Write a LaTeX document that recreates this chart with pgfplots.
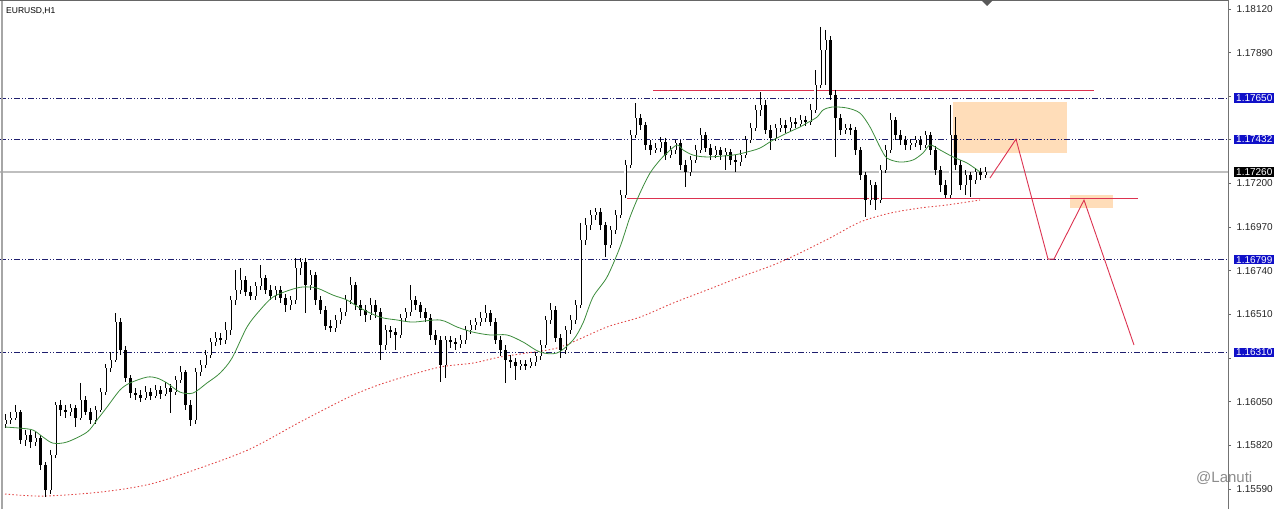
\documentclass[border=0pt]{standalone}
\usepackage{pgfplots}
\pgfplotsset{compat=1.18}
\usepackage{pgfplotstable}
\usepackage{fontspec}
\setmainfont{Liberation Sans}
\definecolor{lvl}{RGB}{30,30,110}
\definecolor{crim}{RGB}{220,50,80}
\definecolor{lblblue}{RGB}{16,16,200}
\definecolor{zone}{RGB}{255,221,185}
\definecolor{ma}{RGB}{60,140,60}
\definecolor{ma2}{RGB}{225,70,70}

\pgfplotstableread{
x o h l c
5 1.15933 1.15985 1.15911 1.15954
10 1.15954 1.15996 1.15933 1.15964
15 1.15964 1.16033 1.15954 1.15996
20 1.15996 1.16006 1.15827 1.15848
25 1.15848 1.15901 1.15817 1.15875
30 1.15875 1.15901 1.15806 1.15838
35 1.15838 1.15890 1.15817 1.15859
40 1.15859 1.15875 1.15690 1.15716
45 1.15716 1.15732 1.15548 1.15585
50 1.15585 1.15796 1.15564 1.15769
55 1.15769 1.16048 1.15753 1.16033
60 1.16033 1.16059 1.15975 1.16006
65 1.16006 1.16033 1.15964 1.15996
70 1.15996 1.16038 1.15975 1.16017
75 1.16017 1.16033 1.15917 1.15964
80 1.15964 1.16149 1.15954 1.16059
85 1.16059 1.16080 1.15980 1.15996
90 1.15996 1.16017 1.15933 1.15954
95 1.15954 1.16027 1.15933 1.16006
100 1.16006 1.16122 1.15996 1.16101
105 1.16101 1.16249 1.16085 1.16228
110 1.16228 1.16312 1.16207 1.16270
115 1.16270 1.16517 1.16259 1.16470
120 1.16470 1.16491 1.16296 1.16322
125 1.16322 1.16344 1.16154 1.16175
130 1.16175 1.16191 1.16070 1.16096
135 1.16096 1.16122 1.16059 1.16085
140 1.16085 1.16112 1.16048 1.16070
145 1.16070 1.16133 1.16059 1.16101
150 1.16101 1.16122 1.16059 1.16080
155 1.16080 1.16138 1.16070 1.16112
160 1.16112 1.16133 1.16064 1.16091
165 1.16091 1.16154 1.16080 1.16122
170 1.16122 1.16143 1.15990 1.16101
175 1.16101 1.16185 1.16085 1.16164
180 1.16164 1.16238 1.16149 1.16207
185 1.16207 1.16217 1.16006 1.16033
190 1.16033 1.16059 1.15922 1.15954
195 1.15954 1.16228 1.15933 1.16207
200 1.16207 1.16270 1.16185 1.16243
205 1.16243 1.16322 1.16228 1.16296
210 1.16296 1.16386 1.16280 1.16365
215 1.16365 1.16417 1.16344 1.16386
220 1.16386 1.16412 1.16349 1.16375
225 1.16375 1.16470 1.16354 1.16428
230 1.16428 1.16607 1.16402 1.16586
235 1.16586 1.16744 1.16560 1.16639
240 1.16639 1.16755 1.16618 1.16691
245 1.16691 1.16712 1.16607 1.16628
250 1.16628 1.16660 1.16586 1.16607
255 1.16607 1.16681 1.16586 1.16660
260 1.16660 1.16770 1.16639 1.16702
265 1.16702 1.16718 1.16618 1.16639
270 1.16639 1.16665 1.16586 1.16607
275 1.16607 1.16660 1.16586 1.16639
280 1.16639 1.16660 1.16570 1.16597
285 1.16597 1.16618 1.16523 1.16560
290 1.16560 1.16607 1.16533 1.16586
295 1.16586 1.16807 1.16565 1.16755
300 1.16755 1.16807 1.16718 1.16786
305 1.16786 1.16807 1.16517 1.16665
310 1.16665 1.16744 1.16639 1.16718
315 1.16718 1.16734 1.16560 1.16586
320 1.16586 1.16607 1.16512 1.16533
325 1.16533 1.16554 1.16428 1.16449
330 1.16449 1.16481 1.16417 1.16438
335 1.16438 1.16507 1.16417 1.16481
340 1.16481 1.16544 1.16460 1.16523
345 1.16523 1.16612 1.16502 1.16586
350 1.16586 1.16707 1.16565 1.16665
355 1.16665 1.16681 1.16533 1.16560
360 1.16560 1.16586 1.16502 1.16533
365 1.16533 1.16560 1.16470 1.16507
370 1.16507 1.16597 1.16481 1.16560
375 1.16560 1.16586 1.16491 1.16523
380 1.16523 1.16544 1.16270 1.16349
385 1.16349 1.16454 1.16322 1.16428
390 1.16428 1.16449 1.16386 1.16417
395 1.16417 1.16438 1.16322 1.16402
400 1.16402 1.16512 1.16386 1.16491
405 1.16491 1.16544 1.16470 1.16523
410 1.16523 1.16665 1.16502 1.16586
415 1.16586 1.16607 1.16533 1.16560
420 1.16560 1.16575 1.16491 1.16523
425 1.16523 1.16544 1.16470 1.16491
430 1.16491 1.16512 1.16375 1.16402
435 1.16402 1.16428 1.16349 1.16375
440 1.16375 1.16396 1.16154 1.16243
445 1.16243 1.16396 1.16175 1.16375
450 1.16375 1.16396 1.16333 1.16365
455 1.16365 1.16386 1.16322 1.16354
460 1.16354 1.16402 1.16333 1.16375
465 1.16375 1.16449 1.16354 1.16428
470 1.16428 1.16481 1.16407 1.16454
475 1.16454 1.16491 1.16428 1.16470
480 1.16470 1.16523 1.16449 1.16491
485 1.16491 1.16560 1.16470 1.16517
490 1.16517 1.16533 1.16449 1.16470
495 1.16470 1.16491 1.16354 1.16375
500 1.16375 1.16396 1.16291 1.16322
505 1.16322 1.16349 1.16149 1.16270
510 1.16270 1.16296 1.16228 1.16259
515 1.16259 1.16280 1.16164 1.16238
520 1.16238 1.16270 1.16217 1.16249
525 1.16249 1.16270 1.16217 1.16238
530 1.16238 1.16280 1.16228 1.16259
535 1.16259 1.16312 1.16238 1.16291
540 1.16291 1.16375 1.16270 1.16349
545 1.16349 1.16502 1.16333 1.16481
550 1.16481 1.16570 1.16460 1.16533
555 1.16533 1.16554 1.16365 1.16386
560 1.16386 1.16407 1.16280 1.16322
565 1.16322 1.16449 1.16301 1.16428
570 1.16428 1.16507 1.16407 1.16481
575 1.16481 1.16586 1.16460 1.16560
580 1.16560 1.16992 1.16544 1.16902
585 1.16902 1.17018 1.16876 1.16981
590 1.16981 1.17060 1.16955 1.17034
595 1.17034 1.17071 1.17008 1.17050
600 1.17050 1.17071 1.16955 1.16981
605 1.16981 1.16997 1.16813 1.16876
610 1.16876 1.16976 1.16860 1.16955
615 1.16955 1.17060 1.16934 1.17034
620 1.17034 1.17166 1.17018 1.17139
625 1.17139 1.17324 1.17124 1.17297
630 1.17297 1.17482 1.17282 1.17456
635 1.17456 1.17624 1.17440 1.17545
640 1.17545 1.17566 1.17482 1.17508
645 1.17508 1.17524 1.17377 1.17403
650 1.17403 1.17429 1.17350 1.17377
655 1.17377 1.17413 1.17361 1.17387
660 1.17387 1.17445 1.17366 1.17419
665 1.17419 1.17440 1.17324 1.17350
670 1.17350 1.17398 1.17334 1.17377
675 1.17377 1.17429 1.17355 1.17413
680 1.17413 1.17429 1.17271 1.17297
685 1.17297 1.17324 1.17182 1.17261
690 1.17261 1.17345 1.17239 1.17324
695 1.17324 1.17403 1.17308 1.17377
700 1.17377 1.17492 1.17361 1.17456
705 1.17456 1.17471 1.17366 1.17387
710 1.17387 1.17408 1.17324 1.17350
715 1.17350 1.17398 1.17334 1.17377
720 1.17377 1.17392 1.17324 1.17350
725 1.17350 1.17387 1.17271 1.17366
730 1.17366 1.17382 1.17297 1.17324
735 1.17324 1.17350 1.17261 1.17313
740 1.17313 1.17377 1.17292 1.17350
745 1.17350 1.17450 1.17334 1.17429
750 1.17429 1.17519 1.17413 1.17492
755 1.17492 1.17614 1.17477 1.17587
760 1.17587 1.17682 1.17556 1.17614
765 1.17614 1.17640 1.17461 1.17482
770 1.17482 1.17508 1.17377 1.17440
775 1.17440 1.17514 1.17424 1.17492
780 1.17492 1.17545 1.17471 1.17508
785 1.17508 1.17535 1.17466 1.17492
790 1.17492 1.17550 1.17477 1.17524
795 1.17524 1.17545 1.17492 1.17514
800 1.17514 1.17561 1.17498 1.17535
805 1.17535 1.17556 1.17503 1.17524
810 1.17524 1.17619 1.17508 1.17587
815 1.17587 1.17798 1.17571 1.17719
820 1.17719 1.18025 1.17703 1.17903
825 1.17903 1.18009 1.17719 1.17956
830 1.17956 1.17977 1.17640 1.17666
835 1.17666 1.17693 1.17340 1.17545
840 1.17545 1.17566 1.17456 1.17482
845 1.17482 1.17514 1.17461 1.17492
850 1.17492 1.17514 1.17456 1.17482
855 1.17482 1.17498 1.17350 1.17377
860 1.17377 1.17392 1.17218 1.17245
865 1.17245 1.17261 1.17023 1.17113
870 1.17113 1.17218 1.17087 1.17192
875 1.17192 1.17208 1.17060 1.17113
880 1.17113 1.17297 1.17097 1.17271
885 1.17271 1.17403 1.17255 1.17377
890 1.17377 1.17571 1.17361 1.17535
895 1.17535 1.17550 1.17429 1.17456
900 1.17456 1.17482 1.17403 1.17429
905 1.17429 1.17450 1.17377 1.17403
910 1.17403 1.17434 1.17377 1.17413
915 1.17413 1.17450 1.17392 1.17429
920 1.17429 1.17450 1.17377 1.17403
925 1.17403 1.17477 1.17387 1.17456
930 1.17456 1.17471 1.17350 1.17377
935 1.17377 1.17398 1.17245 1.17271
940 1.17271 1.17292 1.17155 1.17192
945 1.17192 1.17218 1.17124 1.17139
950 1.17139 1.17614 1.17124 1.17456
955 1.17456 1.17550 1.17271 1.17297
960 1.17297 1.17324 1.17166 1.17192
965 1.17192 1.17271 1.17139 1.17245
970 1.17245 1.17261 1.17129 1.17218
975 1.17218 1.17282 1.17197 1.17261
980 1.17261 1.17282 1.17218 1.17245
985 1.17245 1.17287 1.17229 1.17260
}\candles

\begin{document}
\begin{tikzpicture}
\useasboundingbox (0,0) rectangle (1280pt,509pt);
\begin{axis}[
  at={(0pt,0pt)}, anchor=south west,
  scale only axis, width=1228pt, height=509pt,
  xmin=0, xmax=1228, ymin=1.15485, ymax=1.18167,
  axis x line=none,
  axis y line*=right,
  axis line style={black!55, line width=1pt},
  ytick={1.15590,1.15820,1.16050,1.16280,1.16510,1.16740,1.16970,1.17200,1.17430,1.17660,1.17890,1.18120},
  yticklabels={1.15590,1.15820,1.16050,{},1.16510,1.16740,1.16970,1.17200,{},{},1.17890,1.18120},
  ytick style={black!60, line width=0.8pt},
  tick align=outside, major tick length=3pt,
  yticklabel style={font=\fontsize{10}{11}\selectfont, text=black!85, anchor=west, xshift=2pt},
]
% zones
\addplot[fill=zone, draw=none] coordinates {(953,1.17361) (1067,1.17361) (1067,1.17629) (953,1.17629)} -- cycle;
\addplot[fill=zone, draw=none] coordinates {(1070,1.17071) (1113,1.17071) (1113,1.17139) (1070,1.17139)} -- cycle;
% level lines
\addplot[lvl, line width=0.9pt, dash pattern=on 6pt off 2pt on 1pt off 2pt on 1pt off 2pt] coordinates {(0,1.17650) (1228,1.17650)};
\addplot[lvl, line width=0.9pt, dash pattern=on 6pt off 2pt on 1pt off 2pt on 1pt off 2pt] coordinates {(0,1.17432) (1228,1.17432)};
\addplot[lvl, line width=0.9pt, dash pattern=on 6pt off 2pt on 1pt off 2pt on 1pt off 2pt] coordinates {(0,1.16799) (1228,1.16799)};
\addplot[lvl, line width=0.9pt, dash pattern=on 6pt off 2pt on 1pt off 2pt on 1pt off 2pt] coordinates {(0,1.16310) (1228,1.16310)};
\addplot[black!25, line width=1.5pt] coordinates {(0,1.17260) (1228,1.17260)};
% red lines
\addplot[crim, line width=1.1pt] coordinates {(653,1.17690) (1094,1.17690)};
\addplot[crim, line width=1.1pt] coordinates {(627,1.17123) (1138,1.17123)};
\addplot[crim, line width=0.9pt] coordinates {(990,1.17229) (1016,1.17434) (1048,1.16802) (1054,1.16802) (1084,1.17113) (1134,1.16349)};
% slow MA (dotted)
\addplot[ma2, line width=0.9pt, dash pattern=on 1.5pt off 2.2pt, smooth] coordinates {
(5,1.15564) (43,1.15553) (100,1.15574) (150,1.15616) (200,1.15701) (250,1.15801) (300,1.15943)
(347,1.16070) (373,1.16128) (400,1.16175) (440,1.16233) (473,1.16254) (500,1.16286) (527,1.16307)
(560,1.16338) (607,1.16444) (640,1.16496) (673,1.16570) (707,1.16639) (740,1.16707) (773,1.16770)
(800,1.16834) (830,1.16913) (860,1.16997) (890,1.17044) (920,1.17071) (947,1.17087) (980,1.17113)};
% wicks
\addplot[black, line width=1pt, -, quiver={u=0, v=\thisrow{l}-\thisrow{h}}] table[x=x, y=h] {\candles};
% bodies bear
\addplot[black, line width=3pt, -, quiver={u=0, v=\thisrow{c}-\thisrow{o}},
  restrict expr to domain={\thisrow{c}-\thisrow{o}}{-1:0}] table[x=x, y=o] {\candles};
% bodies bull
\addplot[black, line width=3pt, -, quiver={u=0, v=\thisrow{c}-\thisrow{o}},
  restrict expr to domain={\thisrow{c}-\thisrow{o}}{0:1}] table[x=x, y=o] {\candles};
\addplot[white, line width=1.2pt, -, quiver={u=0, v=\thisrow{c}-\thisrow{o}},
  restrict expr to domain={\thisrow{c}-\thisrow{o}}{0:1}] table[x=x, y=o] {\candles};
% fast MA
\addplot[ma, line width=0.8pt, smooth] coordinates {
(5,1.15917) (20,1.15911) (33,1.15901) (43,1.15864) (53,1.15832) (67,1.15838) (87,1.15890) (97,1.15954)
(107,1.16022) (120,1.16112) (130,1.16149) (147,1.16180) (157,1.16175) (167,1.16149) (180,1.16101)
(193,1.16096) (207,1.16149) (220,1.16201) (232,1.16280) (247,1.16444) (260,1.16533) (273,1.16602)
(290,1.16639) (303,1.16655) (317,1.16649) (333,1.16612) (347,1.16586) (360,1.16544) (380,1.16496)
(397,1.16481) (413,1.16470) (440,1.16481) (457,1.16444) (473,1.16417) (490,1.16402) (507,1.16402)
(523,1.16365) (540,1.16312) (557,1.16307) (573,1.16375) (583,1.16465) (593,1.16602) (607,1.16707)
(620,1.16865) (630,1.17023) (640,1.17150) (650,1.17255) (660,1.17324) (667,1.17361) (677,1.17403)
(683,1.17377) (693,1.17350) (707,1.17340) (733,1.17350) (747,1.17366) (760,1.17387) (773,1.17429)
(787,1.17466) (800,1.17498) (807,1.17519) (817,1.17550) (823,1.17587) (832,1.17603) (847,1.17598)
(860,1.17571) (870,1.17498) (880,1.17392) (887,1.17334) (900,1.17313) (913,1.17324) (923,1.17361)
(930,1.17403) (940,1.17377) (953,1.17340) (967,1.17308) (980,1.17261)};
\coordinate (a1) at (axis cs:1228,1.17650);
\coordinate (a2) at (axis cs:1228,1.17432);
\coordinate (a3) at (axis cs:1228,1.17260);
\coordinate (a4) at (axis cs:1228,1.16799);
\coordinate (a5) at (axis cs:1228,1.16310);
\end{axis}
\tikzset{lbl/.style={anchor=west, font=\fontsize{10}{11}\selectfont, inner xsep=2pt, inner ysep=1.2pt, text=white}}
\node[lbl, fill=lblblue] at ([xshift=6pt]a1) {1.17650};
\node[lbl, fill=lblblue] at ([xshift=6pt]a2) {1.17432};
\node[lbl, fill=black] at ([xshift=6pt]a3) {1.17260};
\node[lbl, fill=lblblue] at ([xshift=6pt]a4) {1.16799};
\node[lbl, fill=lblblue] at ([xshift=6pt]a5) {1.16310};
\draw[black!35, line width=2pt] (2pt,0) -- (2pt,509pt);
\draw[black!60, line width=1pt] (0,508.5pt) -- (1228pt,508.5pt);
\fill[black!65] (981pt,509pt) -- (993pt,509pt) -- (987pt,503pt) -- cycle;
\node[anchor=north west, font=\fontsize{8.5}{10}\selectfont, inner sep=0pt] at (6pt,502pt) {EURUSD,H1};
\node[anchor=base west, font=\fontsize{15}{17}\selectfont, text=black!45, inner sep=0pt] at (1196pt,27pt) {@Lanuti};
\end{tikzpicture}
\end{document}
